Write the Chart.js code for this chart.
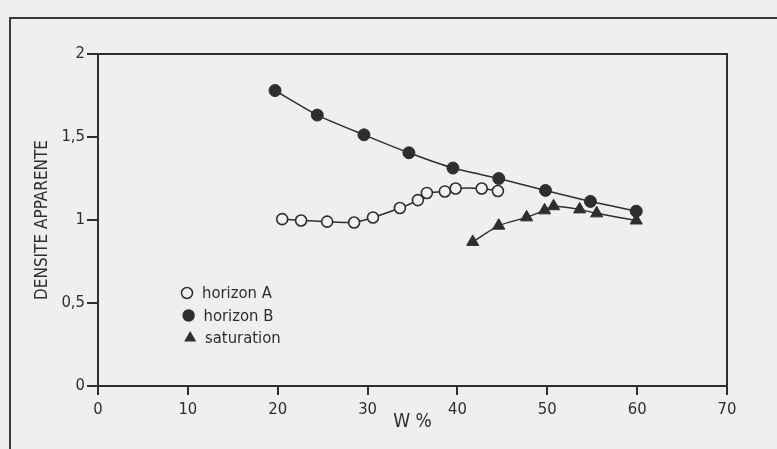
<!DOCTYPE html>
<html>
<head>
<meta charset="utf-8">
<script src="https://cdn.jsdelivr.net/npm/chart.js@4"></script>
<style>
html, body { margin: 0; padding: 0; background: #efefed; }
#wrap { position: relative; width: 777px; height: 449px; overflow: hidden; }
#frame { position: absolute; left: 9px; top: 17px; right: -4px; bottom: -4px;
  border-top: 2px solid #3a3a3a; border-left: 2px solid #3a3a3a; }
canvas { position: absolute; left: 0; top: 0; }
</style>
</head>
<body>
<div id="wrap">
  <div id="frame"></div>
  <canvas id="chart" width="777" height="449"></canvas>
</div>
<script>
// W % (x) and densité apparente (y)
const horizonAW = [20.5, 22.6, 25.5, 28.5, 30.6, 33.6, 35.6, 36.6, 38.6, 39.8, 42.7, 44.5];
const horizonAD = [1.005, 0.997, 0.99, 0.985, 1.015, 1.072, 1.12, 1.163, 1.172, 1.19, 1.19, 1.175];
const horizonBW = [19.7, 24.4, 29.6, 34.6, 39.5, 44.6, 49.8, 54.8, 59.9];
const horizonBD = [1.78, 1.632, 1.513, 1.405, 1.313, 1.25, 1.178, 1.112, 1.053];
const saturationW = [41.7, 44.6, 47.7, 49.7, 50.7, 53.6, 55.5, 59.9];
const saturationD = [0.868, 0.966, 1.016, 1.058, 1.083, 1.064, 1.04, 0.997];

const legendLabels = ['horizon A', 'horizon B', 'saturation'];
const xTitle = 'W %';
const yTitle = 'DENSITE APPARENTE';

const ink = '#2e2e2e';
const cond = '"DejaVu Sans Condensed", "Liberation Sans Narrow", sans-serif';
const pts = (xs, ys) => xs.map((x, i) => ({ x, y: ys[i] }));

// closes the plot box (top + right sides)
const boxPlugin = {
  id: 'box',
  beforeDatasetsDraw(chart) {
    const { ctx, chartArea: a } = chart;
    ctx.save();
    ctx.strokeStyle = ink;
    ctx.lineWidth = 2;
    ctx.beginPath();
    ctx.moveTo(a.left, a.top);
    ctx.lineTo(a.right, a.top);
    ctx.lineTo(a.right, a.bottom);
    ctx.stroke();
    ctx.restore();
  }
};

// legend sits inside the plot area, lower left
const legendPlugin = {
  id: 'innerLegend',
  afterDraw(chart) {
    const { ctx, chartArea: a } = chart;
    const x0 = a.left + 89, y0 = a.top + 239, gap = 22.5;
    ctx.save();
    ctx.font = '16.5px ' + cond;
    ctx.textBaseline = 'middle';
    ctx.fillStyle = ink;
    ctx.strokeStyle = ink;
    chart.data.datasets.forEach((ds, i) => {
      const y = y0 + i * gap;
      const cx = x0 + i * 1.6;
      ctx.beginPath();
      if (ds.pointStyle === 'triangle') {
        const r = 7;
        ctx.moveTo(cx, y - r);
        ctx.lineTo(cx + r * 0.866, y + r * 0.5);
        ctx.lineTo(cx - r * 0.866, y + r * 0.5);
        ctx.closePath();
        ctx.fill();
      } else {
        ctx.arc(cx, y, i === 0 ? 5.5 : 6.2, 0, Math.PI * 2);
        if (ds.pointBackgroundColor === ink) ctx.fill();
        else { ctx.lineWidth = 1.5; ctx.stroke(); }
      }
      ctx.fillText(legendLabels[i], x0 + 15 + i * 1.5, y + 1);
    });
    ctx.restore();
  }
};

const fmt = v => String(v).replace('.', ',');

new Chart(document.getElementById('chart'), {
  type: 'line',
  data: {
    datasets: [
      {
        label: legendLabels[0],
        data: pts(horizonAW, horizonAD),
        borderColor: ink, borderWidth: 1.5,
        pointStyle: 'circle', pointRadius: 5.5,
        pointBackgroundColor: '#f2f2f0', pointBorderColor: ink, pointBorderWidth: 1.6,
        tension: 0.2
      },
      {
        label: legendLabels[1],
        data: pts(horizonBW, horizonBD),
        borderColor: ink, borderWidth: 1.5,
        pointStyle: 'circle', pointRadius: 6,
        pointBackgroundColor: ink, pointBorderColor: ink, pointBorderWidth: 1,
        tension: 0.2
      },
      {
        label: legendLabels[2],
        data: pts(saturationW, saturationD),
        borderColor: ink, borderWidth: 1.5,
        pointStyle: 'triangle', pointRadius: 7,
        pointBackgroundColor: ink, pointBorderColor: ink, pointBorderWidth: 1,
        tension: 0.2
      }
    ]
  },
  options: {
    responsive: false,
    animation: false,
    events: [],
    layout: { padding: { left: 0, right: 50, top: 54, bottom: 0 } },
    plugins: { legend: { display: false }, tooltip: { enabled: false } },
    scales: {
      x: {
        type: 'linear', min: 0, max: 70,
        afterFit(s) { s.height = 63; },
        ticks: { stepSize: 10, color: ink, padding: 5, font: { family: cond, size: 16.5 } },
        grid: { drawOnChartArea: false, drawTicks: true, tickLength: 9, color: ink, lineWidth: 2 },
        border: { display: true, color: ink, width: 2 },
        title: { display: true, text: xTitle, color: ink, padding: { top: 0, bottom: 16 },
          font: { family: cond, size: 19 } }
      },
      y: {
        min: 0, max: 2,
        afterFit(s) { s.width = 98; },
        ticks: { stepSize: 0.5, color: ink, padding: 2, callback: v => fmt(v),
          font: { family: cond, size: 16.5 } },
        grid: { drawOnChartArea: false, drawTicks: true, tickLength: 11, color: ink, lineWidth: 2 },
        border: { display: true, color: ink, width: 2 },
        title: { display: true, text: yTitle, color: ink, padding: { top: 32, bottom: 0 },
          font: { family: cond, size: 17 } }
      }
    }
  },
  plugins: [boxPlugin, legendPlugin]
});
</script>
</body>
</html>
